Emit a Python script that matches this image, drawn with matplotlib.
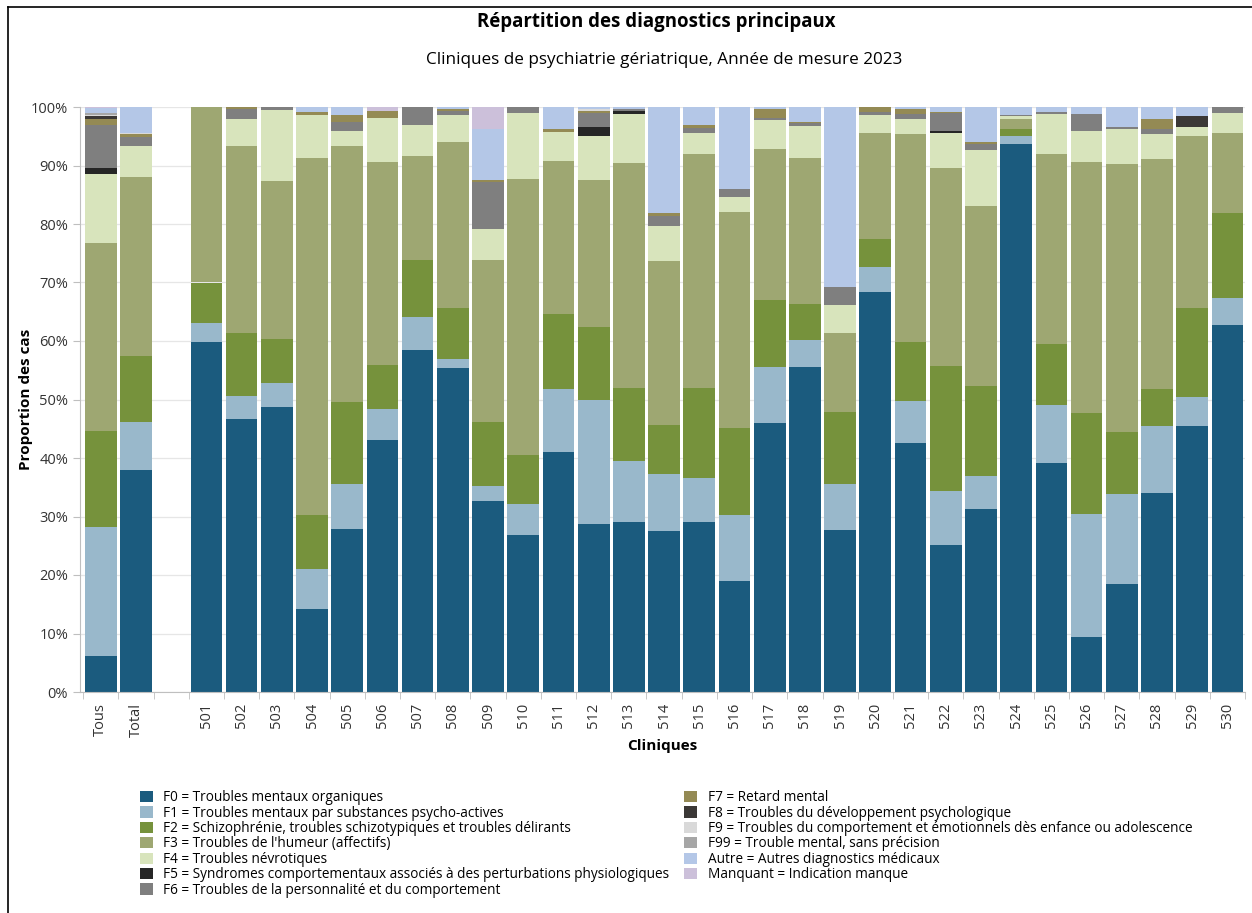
import matplotlib
matplotlib.use('Agg')
import matplotlib.pyplot as plt
from matplotlib.lines import Line2D
from matplotlib.patches import Patch
import numpy as np

plt.rcParams['font.family'] = ['Open Sans', 'DejaVu Sans']

#%% données (en %)
cliniques = ['Tous', 'Total', ''] + [str(c) for c in range(501, 531)]

f0 = [6.1, 37.9, 0, 59.8, 46.6, 48.7, 14.2, 27.9, 43.1, 58.4, 55.3, 32.6, 26.8, 41.0, 28.7, 29.0,
      27.5, 29.0, 18.9, 45.9, 55.5, 27.7, 68.3, 42.6, 25.1, 31.3, 93.6, 39.1, 9.4, 18.4, 34.1, 45.4, 62.8]
f1 = [22.1, 8.3, 0, 3.3, 4.0, 4.1, 6.8, 7.6, 5.2, 5.7, 1.6, 2.6, 5.3, 10.8, 21.3, 10.5,
      9.7, 7.5, 11.4, 9.7, 4.6, 7.8, 4.4, 7.2, 9.3, 5.6, 1.4, 9.9, 21.1, 15.4, 11.3, 5.1, 4.5]
f2 = [16.4, 11.2, 0, 6.9, 10.8, 7.5, 9.2, 14.0, 7.6, 9.7, 8.7, 11.0, 8.4, 12.9, 12.4, 12.4,
      8.5, 15.4, 14.9, 11.4, 6.3, 12.4, 4.7, 10.1, 21.3, 15.4, 1.3, 10.5, 17.2, 10.7, 6.4, 15.2, 14.5]
f3 = [32.2, 30.7, 0, 30.0, 32.0, 27.0, 61.1, 43.9, 34.7, 17.9, 28.5, 27.6, 47.2, 26.1, 25.1, 38.5,
      27.9, 40.1, 36.9, 25.8, 24.9, 13.4, 18.2, 35.4, 33.9, 30.8, 1.6, 32.4, 42.9, 45.8, 39.3, 29.4, 13.8]
f4 = [11.7, 5.2, 0, 0, 4.6, 12.2, 7.4, 2.5, 7.6, 5.2, 4.6, 5.4, 11.2, 4.9, 7.6, 8.4,
      6.1, 3.5, 2.6, 4.9, 5.4, 4.9, 3.1, 2.7, 5.9, 9.5, 0.5, 6.9, 5.3, 5.9, 4.3, 1.4, 3.3]
f5 = [1.0, 0.1, 0, 0, 0, 0, 0, 0, 0, 0, 0, 0, 0, 0, 1.5, 0.5,
      0, 0, 0, 0, 0, 0, 0, 0, 0.4, 0, 0, 0, 0, 0, 0, 0, 0]
f6 = [7.5, 1.4, 0, 0, 1.6, 0.5, 0, 1.5, 0, 3.1, 0.6, 8.0, 1.1, 0, 2.4, 0.3,
      1.7, 0.9, 1.2, 0.5, 0.5, 3.0, 0.4, 0.8, 3.0, 1.0, 0.3, 0.3, 2.9, 0.4, 0.8, 0, 1.1]
f7 = [1.0, 0.5, 0, 0, 0.4, 0, 0.5, 1.2, 1.1, 0, 0.4, 0.3, 0, 0.5, 0.3, 0,
      0.4, 0.5, 0, 1.5, 0.3, 0, 0.9, 0.9, 0.2, 0.4, 0, 0, 0, 0, 1.7, 0, 0]
f8 = [0.5, 0.1, 0, 0, 0, 0, 0, 0, 0, 0, 0, 0, 0, 0, 0, 0,
      0, 0, 0, 0, 0, 0, 0, 0, 0, 0, 0, 0, 0, 0, 0, 2.0, 0]
f9 = [0.2, 0.1, 0, 0, 0, 0, 0, 0, 0, 0, 0, 0, 0, 0, 0.3, 0,
      0, 0, 0, 0, 0, 0, 0, 0, 0, 0, 0, 0, 0, 0, 0, 0, 0]
f99 = [0.2, 0.1, 0, 0, 0, 0, 0, 0, 0, 0, 0, 0, 0, 0, 0, 0,
       0, 0, 0, 0, 0, 0, 0, 0, 0, 0, 0, 0, 0, 0, 0, 0, 0]
autre = [1.0, 4.4, 0, 0, 0, 0, 0.8, 1.4, 0, 0, 0.3, 8.7, 0, 3.8, 0.4, 0.4,
         18.2, 3.1, 14.1, 0.3, 2.5, 30.8, 0, 0.3, 0.9, 6.0, 1.3, 0.9, 1.2, 3.4, 2.1, 1.5, 0]
manquant = [0.1, 0, 0, 0, 0, 0, 0, 0, 0.7, 0, 0, 3.8, 0, 0, 0, 0,
            0, 0, 0, 0, 0, 0, 0, 0, 0, 0, 0, 0, 0, 0, 0, 0, 0]

series = [f0, f1, f2, f3, f4, f5, f6, f7, f8, f9, f99, autre, manquant]
labels = ['F0 = Troubles mentaux organiques',
          'F1 = Troubles mentaux par substances psycho-actives',
          'F2 = Schizophrénie, troubles schizotypiques et troubles délirants',
          "F3 = Troubles de l'humeur (affectifs)",
          'F4 = Troubles névrotiques',
          'F5 = Syndromes comportementaux associés à des perturbations physiologiques',
          'F6 = Troubles de la personnalité et du comportement',
          'F7 = Retard mental',
          'F8 = Troubles du développement psychologique',
          'F9 = Troubles du comportement et émotionnels dès enfance ou adolescence',
          'F99 = Trouble mental, sans précision',
          'Autre = Autres diagnostics médicaux',
          'Manquant = Indication manque']
colors = ['#1b5b7e', '#99b8cb', '#76923c', '#9ea772', '#d8e4bc', '#262626', '#7f7f7f',
          '#948a54', '#3b3836', '#d9d9d9', '#a6a6a6', '#b4c7e7', '#ccc0da']

#%% graphe
fig = plt.figure(figsize=(12.52, 9.13), dpi=100)
ax = fig.add_axes([80/1252, 1-692/913, (1245-80)/1252, (692-107)/913])

x = np.arange(len(cliniques))
bottom = np.zeros(len(cliniques))
for vals, col in zip(series, colors):
    v = np.array(vals, dtype=float)
    ax.bar(x, v, bottom=bottom, width=0.9, color=col, edgecolor='none', zorder=2)
    bottom += v

ax.set_xlim(-0.59, len(cliniques) - 0.5)
ax.set_ylim(0, 100)
ax.set_yticks(np.arange(0, 101, 10))
ax.set_yticklabels(['%d%%' % t for t in range(0, 101, 10)])
ax.grid(axis='y', color='#e6e6e6', linewidth=0.9, zorder=0)

ax.set_xticks(x)
ax.set_xticklabels(cliniques, rotation=90)
ax.set_xticks(np.arange(-0.5, len(cliniques), 1), minor=True)
ax.tick_params(axis='x', which='major', length=0, pad=8, labelsize=10.5, labelcolor='#333333')
ax.tick_params(axis='x', which='minor', length=5, color='#bfbfbf')
ax.tick_params(axis='y', length=5, color='#bfbfbf', labelsize=10.5, labelcolor='#333333')

for s in ['top', 'right']:
    ax.spines[s].set_visible(False)
ax.spines['left'].set_color('#bfbfbf')
ax.spines['bottom'].set_color('#bfbfbf')

ax.set_xlabel('Cliniques', fontsize=11, fontweight='bold')
ax.xaxis.set_label_coords(0.5, -(739-692)/585)
ax.set_ylabel('Proportion des cas', fontsize=11, fontweight='bold')
ax.yaxis.set_label_coords(-(80-33)/1165, 0.5)

fig.text(656/1252, 1-22/913, 'Répartition des diagnostics principaux',
         ha='center', va='center', fontsize=13.4, fontweight='bold')
fig.text(664/1252, 1-60/913, 'Cliniques de psychiatrie gériatrique, Année de mesure 2023',
         ha='center', va='center', fontsize=12.3)

handles = [Patch(facecolor=c, edgecolor='none') for c in colors]
fig.legend(handles, labels, ncol=2, loc='upper left', bbox_to_anchor=(128/1252, 1-778/913),
           frameon=False, fontsize=9.8, handlelength=0.9, handleheight=0.9,
           handletextpad=0.8, labelspacing=0.03, columnspacing=1.1)

# cadre
fig.add_artist(Line2D([8/1252, 1], [1-7/913, 1-7/913], color='black', linewidth=1.2))
fig.add_artist(Line2D([8/1252, 8/1252], [0, 1-7/913], color='black', linewidth=1.2))

fig.savefig('out.png', dpi=100)
